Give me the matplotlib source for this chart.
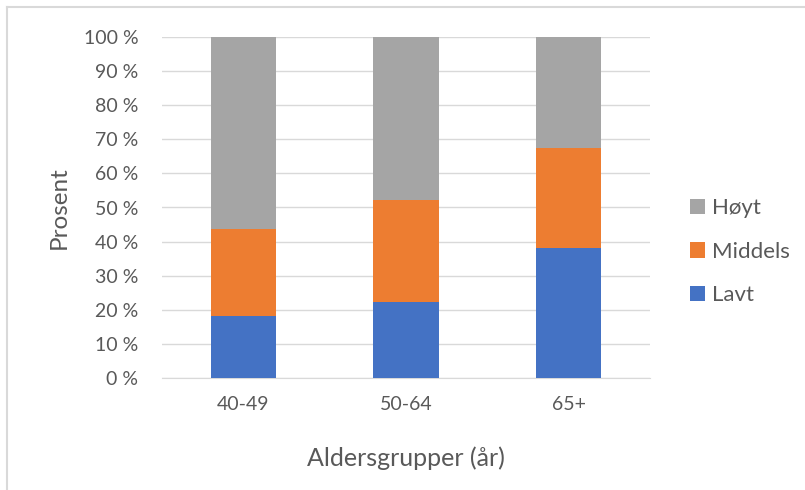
import matplotlib.pyplot as plt
from matplotlib.lines import Line2D
from matplotlib.ticker import FuncFormatter

plt.rcParams['font.family'] = ['Lato', 'DejaVu Sans']

# Data (percent)
groups = ['40-49', '50-64', '65+']
lavt = [18.3, 22.3, 38.0]
middels = [25.3, 30.0, 29.5]
hoyt = [56.4, 47.7, 32.5]

series_names = ['Lavt', 'Middels', 'Høyt']
colors = ['#4472C4', '#ED7D31', '#A5A5A5']
text_color = '#595959'

W, H = 805, 490
fig = plt.figure(figsize=(W / 100, H / 100), dpi=100)
ax = fig.add_axes([162 / W, 1 - 378 / H, (650 - 162) / W, (378 - 37) / H])

x = range(len(groups))
bottom = [0] * len(groups)
handles = []
for vals, name, c in zip([lavt, middels, hoyt], series_names, colors):
    b = ax.bar(x, vals, width=0.4, bottom=bottom, color=c, label=name, zorder=3)
    handles.append(b)
    bottom = [bo + v for bo, v in zip(bottom, vals)]

ax.set_xlim(-0.5, 2.5)
ax.set_ylim(0, 100)
ax.set_yticks(range(0, 101, 10))
ax.yaxis.set_major_formatter(FuncFormatter(lambda v, p: f'{int(v)} %'))
ax.set_xticks(list(x))
ax.set_xticklabels(groups)
ax.grid(axis='y', color='#D9D9D9', linewidth=1, zorder=0)
for s in ['top', 'right', 'left']:
    ax.spines[s].set_visible(False)
ax.spines['bottom'].set_color('#D9D9D9')
ax.tick_params(axis='both', length=0, labelsize=14, colors=text_color)
ax.tick_params(axis='y', pad=17)
ax.tick_params(axis='x', pad=13)

ax.set_ylabel('Prosent', fontsize=17.5, color=text_color, labelpad=10)
ax.set_xlabel('Aldersgrupper (år)', fontsize=18, color=text_color, labelpad=24)

leg = ax.legend(handles[::-1], series_names[::-1], loc='center left',
                bbox_to_anchor=(1.04, 0.37), frameon=False, fontsize=16,
                handlelength=0.7, handleheight=0.7, handletextpad=0.3,
                labelspacing=1.05)
for t in leg.get_texts():
    t.set_color(text_color)

# chart frame (only top and left edges visible in the reference)
fig.add_artist(Line2D([6.5 / W, 1], [1 - 7.5 / H, 1 - 7.5 / H], color='#D9D9D9', linewidth=1.5))
fig.add_artist(Line2D([6.5 / W, 6.5 / W], [0, 1 - 7.5 / H], color='#D9D9D9', linewidth=1.5))

fig.savefig('out.png', dpi=100)
